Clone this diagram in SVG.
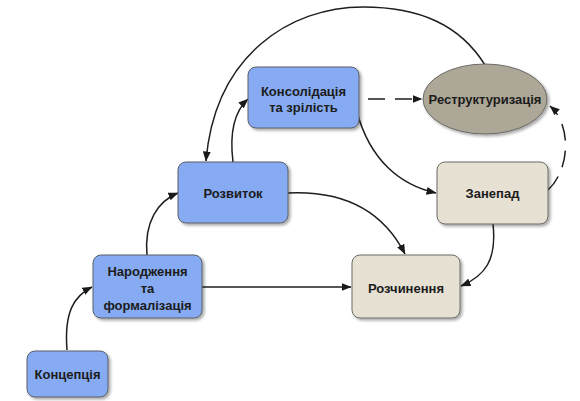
<svg xmlns="http://www.w3.org/2000/svg" width="580" height="401" viewBox="0 0 580 401">
  <defs>
    <marker id="arrow" viewBox="0 0 10 8" refX="9.5" refY="4" markerWidth="10" markerHeight="8" markerUnits="userSpaceOnUse" orient="auto">
      <path d="M0,0 L10,4 L0,8 Z" fill="#1a1a1a"/>
    </marker>
    <filter id="shadow" x="-10%" y="-10%" width="130%" height="130%">
      <feGaussianBlur in="SourceAlpha" stdDeviation="1.5"/>
      <feOffset dx="1.5" dy="1.5" result="b"/>
      <feComponentTransfer><feFuncA type="linear" slope="0.35"/></feComponentTransfer>
      <feMerge><feMergeNode/><feMergeNode in="SourceGraphic"/></feMerge>
    </filter>
  </defs>
  <style>
    .blue { fill: #86abf2; stroke: #5a5f6a; stroke-width: 1; filter: url(#shadow); }
    .beige { fill: #e6e1d3; stroke: #6b6a66; stroke-width: 1; filter: url(#shadow); }
    .oval { fill: #aca796; stroke: #6b6a66; stroke-width: 1; filter: url(#shadow); }
    .label { font-family: "Liberation Sans", Arial, sans-serif; font-weight: bold; font-size: 13px; fill: #1c1c1c; text-anchor: middle; dominant-baseline: central; }
    .edge { fill: none; stroke: #1e1e1e; stroke-width: 1.5; marker-end: url(#arrow); }
    .dash { stroke-dasharray: 17 10; }
  </style>

  <g id="connectors">
    <path class="edge" d="M67,350 C64,312 74,296 92,287"/>
    <path class="edge" d="M147,255 C144,222 158,201 178,193"/>
    <path class="edge" d="M233,162 C229,130 236,110 248,99"/>
    <path class="edge" d="M485,65 C460,25 420,7 363,7 C290,7 215,55 206,161"/>
    <path class="edge dash" d="M368,99 L422,99"/>
    <path class="edge" d="M357,112 C370,160 400,185 436,193"/>
    <path class="edge dash" d="M548,190 C570,170 572,125 550,106"/>
    <path class="edge" d="M493,224 C497,260 485,276 461,286"/>
    <path class="edge" d="M288,193 C350,190 385,215 405,254"/>
    <path class="edge" d="M202,287 L351,287"/>
  </g>

  <g id="kontseptsiia">
    <rect class="blue" x="27" y="351" width="81" height="46" rx="8"/>
    <text class="label" x="67.5" y="374">Концепція</text>
  </g>
  <g id="narodzhennia">
    <rect class="blue" x="93" y="255" width="109" height="63" rx="8"/>
    <text class="label" x="147.5" y="271">Народження</text>
    <text class="label" x="147.5" y="288">та</text>
    <text class="label" x="147.5" y="305">формалізація</text>
  </g>
  <g id="rozvytok">
    <rect class="blue" x="178" y="162" width="110" height="61" rx="8"/>
    <text class="label" x="233" y="193">Розвиток</text>
  </g>
  <g id="konsolidatsiia">
    <rect class="blue" x="248" y="67" width="111" height="61" rx="8"/>
    <text class="label" x="303.5" y="91">Консолідація</text>
    <text class="label" x="303.5" y="107">та зрілість</text>
  </g>
  <g id="restrukturyzatsiia">
    <ellipse class="oval" cx="485" cy="99" rx="62" ry="35"/>
    <text class="label" x="485" y="99">Реструктуризація</text>
  </g>
  <g id="zanepad">
    <rect class="beige" x="437" y="162" width="111" height="62" rx="8"/>
    <text class="label" x="492.5" y="193">Занепад</text>
  </g>
  <g id="rozchynennia">
    <rect class="beige" x="352" y="255" width="108" height="63" rx="8"/>
    <text class="label" x="406" y="288">Розчинення</text>
  </g>
</svg>
